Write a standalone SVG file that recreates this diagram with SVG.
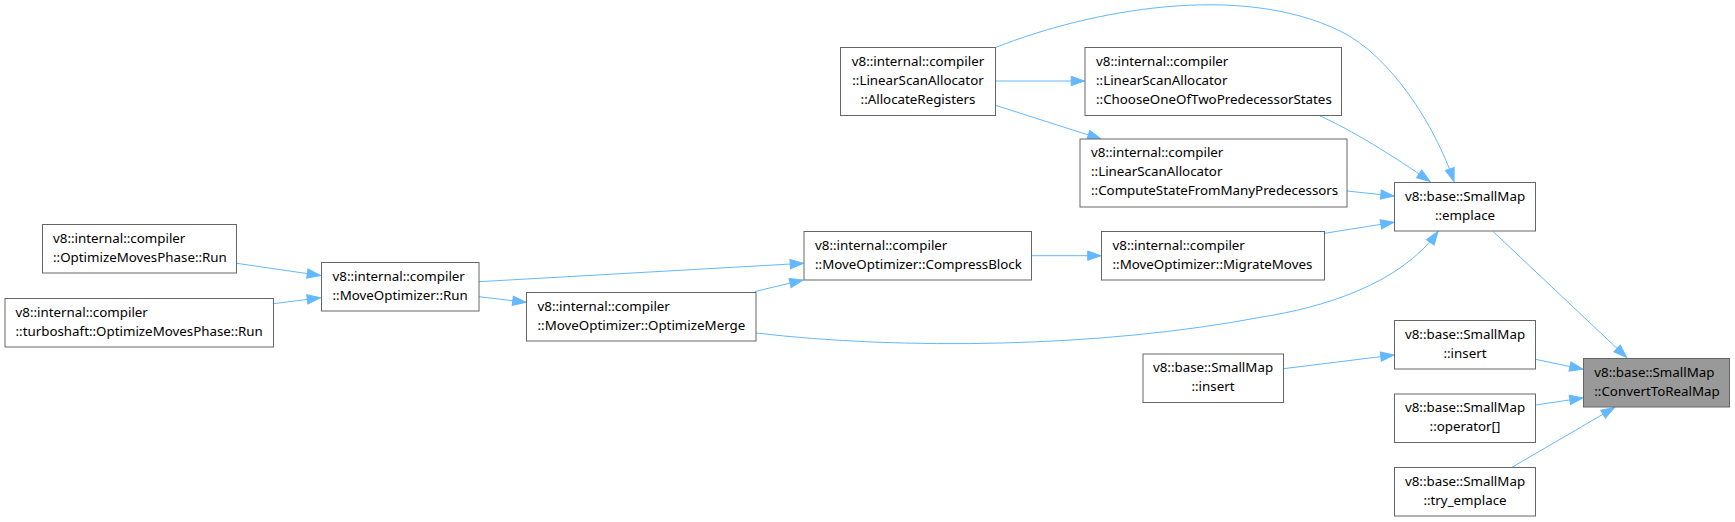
<svg xmlns="http://www.w3.org/2000/svg" width="1735" height="522" viewBox="0 0 1735 522">
<style>
.n rect{fill:#ffffff;stroke:#666666;stroke-width:1}
.n.cur rect{fill:#999999}
.n text{font-family:"Noto Sans","Open Sans","DejaVu Sans",sans-serif;font-size:13.33px;fill:#000000}
.m text{text-anchor:middle}
#edges path{fill:none;stroke:#63b8ff;stroke-width:1;marker-end:url(#ah)}
</style>
<defs>
<marker id="ah" markerUnits="userSpaceOnUse" markerWidth="16" markerHeight="12" refX="13.3" refY="4.65" orient="auto" overflow="visible">
<path d="M0,0 L13.3,4.65 L0,9.3 Z" fill="#63b8ff" stroke="#63b8ff" stroke-width="1"/>
</marker>
</defs>
<rect x="0" y="0" width="1735" height="522" fill="#ffffff"/>
<g id="edges">
<path d="M236.7,263.3 L320.5,275.5"/>
<path d="M273.7,303.7 L320.5,297.7"/>
<path d="M479,281.7 L803.5,263.3"/>
<path d="M479,296.7 L526,302.3"/>
<path d="M755,291.5 L803,280"/>
<path d="M1031.5,255.7 L1101,255.7"/>
<path d="M995.5,81 L1084.5,81"/>
<path d="M995.5,105.3 L1101,139"/>
<path d="M995,47.7 C1090,10 1240,-18 1340,31 C1390,55 1435,125 1454,181.5"/>
<path d="M1320,116 C1350,129 1395,157 1430,181.5"/>
<path d="M1347,191 L1394,196"/>
<path d="M1324.6,233.3 L1394,222.3"/>
<path d="M756,333 C900,350 1100,348 1262,317 C1320,308 1400,285 1438,231.5"/>
<path d="M1493.3,231.7 L1626.7,357.5"/>
<path d="M1535.5,359.3 L1583,369.3"/>
<path d="M1535.5,405 L1583,398"/>
<path d="M1512,467.3 L1614.5,407.5"/>
<path d="M1283.5,368.7 L1394,355"/>
</g>
<g id="node1" class="n"><rect x="42.5" y="224.5" width="194" height="48.5"/><text x="53" y="243">v8::internal::compiler</text><text x="53" y="262">::OptimizeMovesPhase::Run</text></g>
<g id="node2" class="n"><rect x="5" y="298.5" width="268.5" height="48.5"/><text x="15.5" y="316.8">v8::internal::compiler</text><text x="15.5" y="335.8">::turboshaft::OptimizeMovesPhase::Run</text></g>
<g id="node3" class="n"><rect x="321.5" y="262.5" width="157.5" height="48.5"/><text x="332.5" y="280.8">v8::internal::compiler</text><text x="332.5" y="299.8">::MoveOptimizer::Run</text></g>
<g id="node4" class="n"><rect x="526.5" y="292.5" width="229.5" height="48.5"/><text x="537.5" y="310.8">v8::internal::compiler</text><text x="537.5" y="329.8">::MoveOptimizer::OptimizeMerge</text></g>
<g id="node5" class="n"><rect x="804" y="231.5" width="227.5" height="48.5"/><text x="815" y="249.8">v8::internal::compiler</text><text x="815" y="268.8">::MoveOptimizer::CompressBlock</text></g>
<g id="node6" class="n"><rect x="1101.5" y="231.5" width="223" height="48.5"/><text x="1112.5" y="249.8">v8::internal::compiler</text><text x="1112.5" y="268.8">::MoveOptimizer::MigrateMoves</text></g>
<g id="node7" class="n m"><rect x="840.5" y="47.5" width="155" height="68"/><text x="918" y="65.8">v8::internal::compiler</text><text x="918" y="84.8">::LinearScanAllocator</text><text x="918" y="103.8">::AllocateRegisters</text></g>
<g id="node8" class="n"><rect x="1085" y="47.5" width="256.5" height="68"/><text x="1096" y="65.8">v8::internal::compiler</text><text x="1096" y="84.8">::LinearScanAllocator</text><text x="1096" y="103.8">::ChooseOneOfTwoPredecessorStates</text></g>
<g id="node9" class="n"><rect x="1080" y="139" width="267" height="68"/><text x="1091" y="157.3">v8::internal::compiler</text><text x="1091" y="176.3">::LinearScanAllocator</text><text x="1091" y="195.3">::ComputeStateFromManyPredecessors</text></g>
<g id="node10" class="n m"><rect x="1394.5" y="182.5" width="141" height="48.5"/><text x="1465" y="200.8">v8::base::SmallMap</text><text x="1465" y="219.8">::emplace</text></g>
<g id="node11" class="n m"><rect x="1394.5" y="320.5" width="141" height="48.5"/><text x="1465" y="338.8">v8::base::SmallMap</text><text x="1465" y="357.8">::insert</text></g>
<g id="node12" class="n m"><rect x="1394.5" y="394" width="141" height="48.5"/><text x="1465" y="412.3">v8::base::SmallMap</text><text x="1465" y="431.3">::operator[]</text></g>
<g id="node13" class="n m"><rect x="1394.5" y="467.5" width="141" height="48.5"/><text x="1465" y="485.8">v8::base::SmallMap</text><text x="1465" y="504.8">::try_emplace</text></g>
<g id="node14" class="n cur"><rect x="1583.5" y="358.5" width="146" height="48.5"/><text x="1594.3" y="376.8">v8::base::SmallMap</text><text x="1594.3" y="395.8">::ConvertToRealMap</text></g>
<g id="node15" class="n m"><rect x="1143" y="354" width="140.5" height="48.5"/><text x="1213" y="372.3">v8::base::SmallMap</text><text x="1213" y="391.3">::insert</text></g>
</svg>
